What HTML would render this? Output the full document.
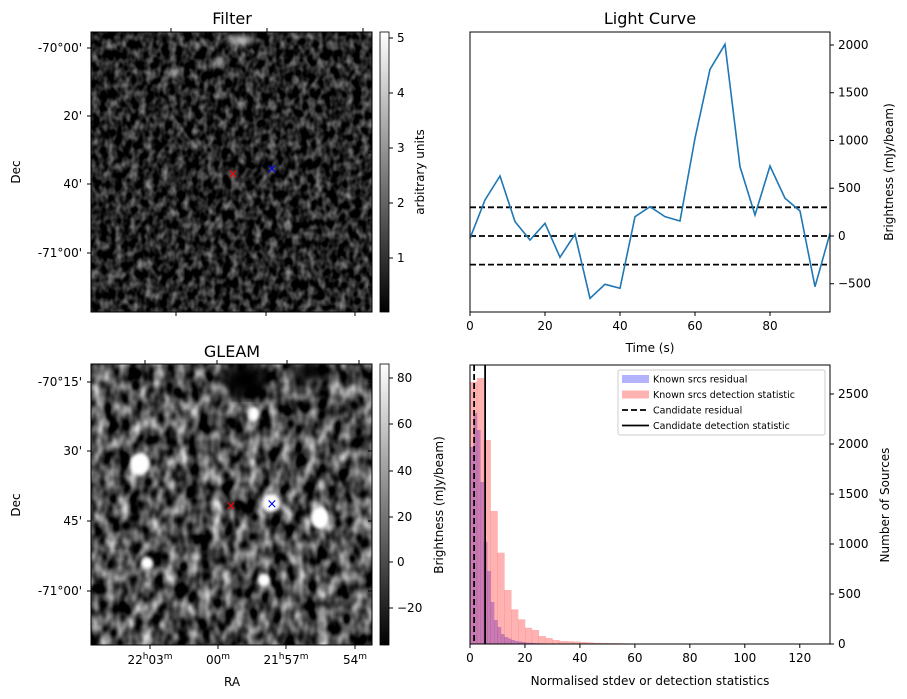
<!DOCTYPE html>
<html><head><meta charset="utf-8"><style>
html,body{margin:0;padding:0;background:#fff;width:907px;height:699px;overflow:hidden}
svg{display:block;font-family:"DejaVu Sans","Liberation Sans",sans-serif}
</style></head><body>
<svg id="fig" width="907" height="699" viewBox="0 0 907 699" xmlns="http://www.w3.org/2000/svg">
<defs>
<filter id="fnoise" x="0" y="0" width="100%" height="100%" color-interpolation-filters="sRGB">
<feTurbulence type="fractalNoise" baseFrequency="0.13 0.1" numOctaves="2" seed="4"/>
<feColorMatrix type="matrix" values="1.0 0 0 0 -0.36  1.0 0 0 0 -0.36  1.0 0 0 0 -0.36  0 0 0 0 1"/>
</filter>
<filter id="gnoise" x="0" y="0" width="100%" height="100%" color-interpolation-filters="sRGB">
<feTurbulence type="fractalNoise" baseFrequency="0.085 0.06" numOctaves="2" seed="9"/>
<feColorMatrix type="matrix" values="1.5 0 0 0 -0.45  1.5 0 0 0 -0.45  1.5 0 0 0 -0.45  0 0 0 0 1"/>
</filter>
<filter id="blur2"><feGaussianBlur stdDeviation="1.5"/></filter>
<filter id="blur3"><feGaussianBlur stdDeviation="3"/></filter>
<filter id="blur6"><feGaussianBlur stdDeviation="6"/></filter>
<linearGradient id="gray" x1="0" y1="1" x2="0" y2="0"><stop offset="0" stop-color="#000"/><stop offset="1" stop-color="#fff"/></linearGradient>
<clipPath id="c1"><rect x="91" y="32" width="281" height="280"/></clipPath>
<clipPath id="c2"><rect x="91" y="364" width="281" height="281"/></clipPath>
</defs>

<g>
<text x="232" y="24" font-size="16" text-anchor="middle">Filter</text>
<g clip-path="url(#c1)">
<rect x="91" y="32" width="281" height="280" filter="url(#fnoise)"/>
<g filter="url(#blur3)" fill="#ccc" opacity="0.8"><ellipse cx="240" cy="40" rx="14" ry="5"/><ellipse cx="220" cy="62" rx="6" ry="4"/><ellipse cx="175" cy="72" rx="6" ry="4"/></g>
</g>
<rect x="91" y="32" width="281" height="280" fill="none" stroke="#000" stroke-width="1"/>
<text x="233" y="178" font-size="13" fill="#f00" text-anchor="middle">×</text>
<text x="272" y="173" font-size="13" fill="#00f" text-anchor="middle">×</text>
<g font-size="12" text-anchor="end">
<text x="82" y="52">-70°00'</text><text x="82" y="120">20'</text><text x="82" y="188">40'</text><text x="82" y="257">-71°00'</text>
<path d="M87 48h4M87 116h4M87 184h4M87 253h4M372 85h-4M372 153h-4M372 220h-4M372 287h-4M171 32v-4M267 32v-4M363 32v-4M176 312v4M266 312v4M355 312v4" stroke="#000"/>
</g>
<text transform="translate(20,172) rotate(-90)" font-size="12" text-anchor="middle">Dec</text>
<rect x="380" y="32" width="9" height="280" fill="url(#gray)" stroke="#000" stroke-width="0.8"/>
<g font-size="12">
<path d="M389 38h4M389 93h4M389 148h4M389 203h4M389 258h4" stroke="#000"/>
<text x="397" y="42">5</text><text x="397" y="97">4</text><text x="397" y="152">3</text><text x="397" y="207">2</text><text x="397" y="262">1</text>
</g>
<text transform="translate(424,172) rotate(-90)" font-size="12" text-anchor="middle">arbitrary units</text>
</g>

<g>
<text x="232" y="357" font-size="16" text-anchor="middle">GLEAM</text>
<g clip-path="url(#c2)">
<rect x="91" y="364" width="281" height="281" filter="url(#gnoise)"/>
<g filter="url(#blur6)" fill="#000"><ellipse cx="245" cy="380" rx="22" ry="18"/><ellipse cx="310" cy="372" rx="20" ry="10"/></g>
<g filter="url(#blur2)" fill="#fff"><ellipse cx="140" cy="464" rx="10" ry="11"/><ellipse cx="271" cy="503" rx="9" ry="9"/><ellipse cx="320" cy="518" rx="9" ry="11"/><ellipse cx="254" cy="414" rx="5" ry="7"/><ellipse cx="147" cy="563" rx="6" ry="6"/><ellipse cx="264" cy="580" rx="6" ry="6"/></g>
</g>
<rect x="91" y="364" width="281" height="281" fill="none" stroke="#000" stroke-width="1"/>
<text x="231" y="510" font-size="13" fill="#f00" text-anchor="middle">×</text>
<text x="272" y="508" font-size="13" fill="#00f" text-anchor="middle">×</text>
<g font-size="12">
<path d="M87 382h4M87 451h4M87 521h4M87 591h4M372 382h-4M372 451h-4M372 521h-4M372 591h-4M145 364v-4M217 364v-4M287 364v-4M359 364v-4M150 645v4M218 645v4M286 645v4M355 645v4" stroke="#000"/>
<g text-anchor="end"><text x="82" y="386">-70°15'</text><text x="82" y="455">30'</text><text x="82" y="525">45'</text><text x="82" y="595">-71°00'</text></g>
<g text-anchor="middle"><text x="150" y="664">22<tspan font-size="9" dy="-5">h</tspan><tspan dy="5">03</tspan><tspan font-size="9" dy="-5">m</tspan></text>
<text x="218" y="664">00<tspan font-size="9" dy="-5">m</tspan></text>
<text x="286" y="664">21<tspan font-size="9" dy="-5">h</tspan><tspan dy="5">57</tspan><tspan font-size="9" dy="-5">m</tspan></text>
<text x="355" y="664">54<tspan font-size="9" dy="-5">m</tspan></text></g>
</g>
<text x="232" y="686" font-size="12" text-anchor="middle">RA</text>
<text transform="translate(20,505) rotate(-90)" font-size="12" text-anchor="middle">Dec</text>
<rect x="380" y="364" width="9" height="281" fill="url(#gray)" stroke="#000" stroke-width="0.8"/>
<g font-size="12">
<path d="M389 378h4M389 424h4M389 471h4M389 517h4M389 562h4M389 608h4" stroke="#000"/>
<text x="397" y="382">80</text><text x="397" y="428">60</text><text x="397" y="475">40</text><text x="397" y="521">20</text><text x="397" y="566">0</text><text x="397" y="612">−20</text>
</g>
<text transform="translate(443,505) rotate(-90)" font-size="12" text-anchor="middle">Brightness (mJy/beam)</text>
</g>

<g id="lc"></g>
<g id="hist"></g>
</svg>
<script>
const lcTimes=[0,4,8,12,16,20,24,28,32,36,40,44,48,52,56,60,64,68,72,76,80,84,88,92,96];
const lcValues=[-24,377,628,150,-42,133,-223,18,-653,-506,-548,202,307,202,157,1023,1745,2007,726,220,733,395,262,-531,28];
const lcThresholds=[300,0,-300];
const lcYTicks=[2000,1500,1000,500,0,-500];
const lcXTicks=[0,20,40,60,80];

const redBinWidth=2.5;
const redCounts=[2620,2660,2040,1330,913,540,347,247,163,140,80,60,40,30,28,25,20,15,12,10,9,8,6,5,4,3,3,2,3,2,2,1,2,1,1,2,1,1,1,1,1,2,1,1,1,1,2,1,1,1];
const blueBinWidth=1.25;
const blueCounts=[1970,2310,2140,1620,1020,730,420,240,170,100,70,55,40,30,25,20,15,12,10,8,7,6,5,4,3,3,2,2,2,1,1,1,1,1,1,1,1,1];
const candResidual=1.5;
const candDetection=5.5;
const histXTicks=[0,20,40,60,80,100,120];
const histYTicks=[0,500,1000,1500,2000,2500];

const NS='http://www.w3.org/2000/svg';
function mk(tag,attrs,parent){const e=document.createElementNS(NS,tag);for(const k in attrs)e.setAttribute(k,attrs[k]);parent.appendChild(e);return e;}

const lc=document.getElementById('lc');
const L={x0:470,x1:830,y0:32,y1:312,xmin:0,xmax:96,ymin:-796,ymax:2136};
const lx=v=>L.x0+(v-L.xmin)/(L.xmax-L.xmin)*(L.x1-L.x0);
const ly=v=>L.y1-(v-L.ymin)/(L.ymax-L.ymin)*(L.y1-L.y0);
let t=mk('text',{x:650,y:24,'font-size':16,'text-anchor':'middle'},lc);t.textContent='Light Curve';


lcThresholds.forEach(v=>{const l=mk('line',{x1:L.x0,x2:L.x1,y1:ly(v),y2:ly(v),stroke:'#000','stroke-width':1.8,'stroke-dasharray':'6,3'},lc);

});
const p=mk('polyline',{points:lcTimes.map((x,i)=>lx(x)+','+ly(lcValues[i])).join(' '),fill:'none',stroke:'#1f77b4','stroke-width':1.6},lc);


mk('rect',{x:L.x0,y:L.y0,width:L.x1-L.x0,height:L.y1-L.y0,fill:'none',stroke:'#000','stroke-width':1},lc);
lcYTicks.forEach(v=>{mk('line',{x1:L.x1,x2:L.x1+4,y1:ly(v),y2:ly(v),stroke:'#000'},lc);
const tt=mk('text',{x:L.x1+8,y:ly(v)+4,'font-size':12},lc);tt.textContent=v<0?'−'+(-v):v;

});
lcXTicks.forEach(v=>{mk('line',{x1:lx(v),x2:lx(v),y1:L.y1,y2:L.y1+4,stroke:'#000'},lc);
const tt=mk('text',{x:lx(v),y:L.y1+18,'font-size':12,'text-anchor':'middle'},lc);tt.textContent=v;

});
t=mk('text',{x:650,y:352,'font-size':12,'text-anchor':'middle'},lc);t.textContent='Time (s)';


t=mk('text',{transform:'translate(893,172) rotate(-90)','font-size':12,'text-anchor':'middle'},lc);t.textContent='Brightness (mJy/beam)';



const h=document.getElementById('hist');
const H={x0:470,x1:830,y0:365,y1:644,xmin:0,xmax:131,ymin:0,ymax:2790};
const hx=v=>H.x0+(v-H.xmin)/(H.xmax-H.xmin)*(H.x1-H.x0);
const hy=v=>H.y1-(v-H.ymin)/(H.ymax-H.ymin)*(H.y1-H.y0);
blueCounts.forEach((c,i)=>{const r=mk('rect',{x:hx(i*blueBinWidth),width:hx((i+1)*blueBinWidth)-hx(i*blueBinWidth)+0.3,y:hy(c),height:H.y1-hy(c),fill:'#0000ff','fill-opacity':0.3},h);

});
redCounts.forEach((c,i)=>{const r=mk('rect',{x:hx(i*redBinWidth),width:hx((i+1)*redBinWidth)-hx(i*redBinWidth)+0.3,y:hy(c),height:H.y1-hy(c),fill:'#ff0000','fill-opacity':0.3},h);

});
let vl=mk('line',{x1:hx(candResidual),x2:hx(candResidual),y1:H.y0,y2:H.y1,stroke:'#000','stroke-width':1.8,'stroke-dasharray':'6,3'},h);


vl=mk('line',{x1:hx(candDetection),x2:hx(candDetection),y1:H.y0,y2:H.y1,stroke:'#000','stroke-width':1.8},h);


mk('rect',{x:H.x0,y:H.y0,width:H.x1-H.x0,height:H.y1-H.y0,fill:'none',stroke:'#000','stroke-width':1},h);
histYTicks.forEach(v=>{mk('line',{x1:H.x1,x2:H.x1+4,y1:hy(v),y2:hy(v),stroke:'#000'},h);
const tt=mk('text',{x:H.x1+8,y:hy(v)+4,'font-size':12},h);tt.textContent=v;

});
histXTicks.forEach(v=>{mk('line',{x1:hx(v),x2:hx(v),y1:H.y1,y2:H.y1+4,stroke:'#000'},h);
const tt=mk('text',{x:hx(v),y:H.y1+18,'font-size':12,'text-anchor':'middle'},h);tt.textContent=v;

});
t=mk('text',{x:650,y:685,'font-size':12,'text-anchor':'middle'},h);t.textContent='Normalised stdev or detection statistics';


t=mk('text',{transform:'translate(889,505) rotate(-90)','font-size':12,'text-anchor':'middle'},h);t.textContent='Number of Sources';


const lg=mk('g',{},h);


mk('rect',{x:618,y:370,width:207,height:65,rx:2,fill:'#fff','fill-opacity':0.85,stroke:'#ccc'},lg);
const items=[['Known srcs residual','b'],['Known srcs detection statistic','r'],['Candidate residual','d'],['Candidate detection statistic','s']];
items.forEach((it,i)=>{const y=379+i*15.5;
if(it[1]==='b')mk('rect',{x:622,y:y-4,width:27,height:8,fill:'#0000ff','fill-opacity':0.3},lg);
else if(it[1]==='r')mk('rect',{x:622,y:y-4,width:27,height:8,fill:'#ff0000','fill-opacity':0.3},lg);
else mk('line',{x1:622,x2:649,y1:y,y2:y,stroke:'#000','stroke-width':1.8,'stroke-dasharray':it[1]==='d'?'6,3':'none'},lg);
const tt=mk('text',{x:653,y:y+3.5,'font-size':9.5},lg);tt.textContent=it[0];

});
</script>
</body></html>
